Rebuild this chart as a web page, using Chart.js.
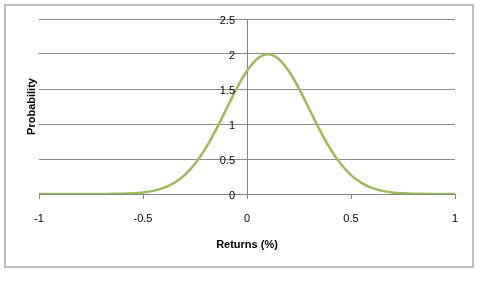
<!DOCTYPE html>
<html>
<head>
<meta charset="utf-8">
<script src="https://cdn.jsdelivr.net/npm/chart.js@4/dist/chart.umd.min.js"></script>
<style>
  html, body { margin: 0; padding: 0; background: #ffffff; }
  #wrap { position: relative; width: 497px; height: 304px; }
</style>
</head>
<body>
<div id="wrap"><canvas id="c" width="497" height="304"></canvas></div>
<script>
// Data
const returns = [-1, -0.95, -0.9, -0.85, -0.8, -0.75, -0.7, -0.65, -0.6, -0.55, -0.5, -0.45, -0.4, -0.35, -0.3, -0.25, -0.2, -0.15, -0.1, -0.05,
  0, 0.05, 0.1, 0.15, 0.2, 0.25, 0.3, 0.35, 0.4, 0.45, 0.5, 0.55, 0.6, 0.65, 0.7, 0.75, 0.8, 0.85, 0.9, 0.95, 1];
const probability = [0, 0, 0, 0, 0, 0.0001, 0.0003, 0.002, 0.004, 0.01, 0.022, 0.045, 0.088, 0.159, 0.27, 0.431, 0.648, 0.913, 1.21, 1.506,
  1.76, 1.933, 1.995, 1.933, 1.76, 1.506, 1.21, 0.913, 0.648, 0.431, 0.27, 0.159, 0.088, 0.045, 0.022, 0.01, 0.004, 0.002, 0.0003, 0.0001, 0];
const xTicks = [-1, -0.5, 0, 0.5, 1];
const yTicks = [0, 0.5, 1, 1.5, 2, 2.5];
const xTitle = 'Returns (%)';
const yTitle = 'Probability';

const points = returns.map((r, i) => ({ x: r, y: probability[i] }));

const tickFont = { family: "'Liberation Sans', Arial, sans-serif", size: 11 };
const titleFont = { family: "'Liberation Sans', Arial, sans-serif", size: 11, weight: 'bold' };

const frame = {
  id: 'frame',
  afterDraw(chart) {
    const ctx = chart.ctx;
    ctx.save();
    ctx.strokeStyle = '#bfbfbf';
    ctx.lineWidth = 2;
    ctx.strokeRect(5, 5, 468, 262);
    // y tick labels, placed left of the central value axis
    const xs = chart.scales.x, ys = chart.scales.y;
    const ax = xs.getPixelForValue(0);
    ctx.fillStyle = '#000';
    ctx.font = "11px 'Liberation Sans', Arial, sans-serif";
    ctx.textAlign = 'right';
    ctx.textBaseline = 'middle';
    yTicks.forEach(v => {
      ctx.fillText(String(v), ax - 12, ys.getPixelForValue(v) + 2);
    });
    ctx.restore();
  }
};

new Chart(document.getElementById('c'), {
  type: 'scatter',
  data: {
    datasets: [{
      data: points,
      showLine: true,
      borderColor: '#9bbb59',
      backgroundColor: '#9bbb59',
      borderWidth: 2.5,
      pointRadius: 0,
      cubicInterpolationMode: 'monotone',
      fill: false
    }]
  },
  options: {
    responsive: false,
    animation: false,
    devicePixelRatio: 1,
    layout: { padding: { left: 20, right: 42, top: 19, bottom: 48 } },
    plugins: { legend: { display: false }, tooltip: { enabled: false } },
    scales: {
      x: {
        type: 'linear',
        position: 'bottom',
        min: -1, max: 1,
        afterBuildTicks: s => { s.ticks = xTicks.map(v => ({ value: v })); },
        afterFit: s => { s.height = 62; },
        ticks: { font: tickFont, color: '#000', padding: 13, maxRotation: 0, callback: v => String(v) },
        grid: { drawOnChartArea: false, drawTicks: true, tickLength: 5, color: '#868686' },
        border: { display: true, color: '#868686', width: 1 },
        title: { display: true, text: xTitle, font: titleFont, color: '#000', padding: { top: 4, bottom: 4 } }
      },
      y: {
        type: 'linear',
        position: { x: 0 },
        min: 0, max: 2.5,
        afterBuildTicks: s => { s.ticks = yTicks.map(v => ({ value: v })); },
        ticks: { display: false },
        grid: { drawTicks: false, color: '#8c8c8c', lineWidth: 1 },
        border: { display: true, color: '#868686', width: 1 }
      },
      yTitle: {
        type: 'linear',
        position: 'left',
        display: true,
        afterFit: s => { s.width = 19; },
        ticks: { display: false },
        grid: { display: false },
        border: { display: false },
        title: { display: true, text: yTitle, font: titleFont, color: '#000', padding: { top: 5, bottom: 0 } }
      }
    }
  },
  plugins: [frame]
});
</script>
</body>
</html>
